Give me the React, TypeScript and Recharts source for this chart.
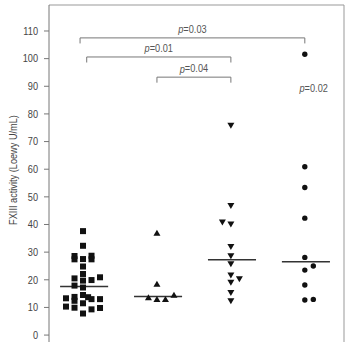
import { ScatterChart, Scatter, XAxis, YAxis, ReferenceLine, ReferenceDot } from "recharts";

// FXIII activity per patient group (Loewy U/mL)
const GROUP_1 = [37.6, 32.3, 28.6, 27.4, 27.5, 28.7, 27.4, 24.8, 22.1, 20.5, 19.7, 19.9, 20.9, 17.9, 17.2, 13.3, 13.8, 12.4, 14.5, 13.7, 13.0, 13.0, 10.3, 9.9, 11.5, 7.8, 9.3, 9.8];
const GROUP_2 = [36.8, 18.4, 13.5, 12.9, 12.9, 14.4];
const GROUP_3 = [75.9, 46.9, 40.9, 40.2, 32.0, 28.7, 25.8, 21.7, 20.4, 19.1, 15.4, 12.4];
const GROUP_4 = [101.6, 60.9, 53.4, 42.3, 28.1, 25.0, 23.5, 18.1, 12.7, 12.9];

// side-by-side lanes so that equal values don't overlap
const LANES_1 = [0, 0, -1, -1, 0, 1, 1, 0, 0, -1, 0, 1, 2, -1, 0, -2, -1, -1, 0, 0.6, 1, 2, -2, -1, 0, 0, 1, 2];
const LANES_2 = [0, 0, -1, 0, 1, 2];
const LANES_3 = [0, 0, -1, 0, 0, 0, 0, 0, 1, 0, 0, 0];
const LANES_4 = [0, 0, 0, 0, 0, 1, 0, 0, 0, 1];

const Y_TICKS = [0, 10, 20, 30, 40, 50, 60, 70, 80, 90, 100, 110];
const Y_LABEL = "FXIII activity (Loewy U/mL)";

// pairwise comparisons
const P_LABELS = ["0.03", "0.01", "0.04"];
const P_FROM = [0.96, 1.05, 2.0];
const P_TO = [4.0, 3.0, 3.0];
const P_LEVEL = [107.5, 100.6, 93.3];
const P_SINGLE = "0.02";

const LANE_W = 0.115;
const Y_DOMAIN: [number, number] = [-5.4, 119.4];
const X_DOMAIN: [number, number] = [0.54, 4.53];
const FONT = "'Liberation Sans', Arial, sans-serif";
const SQUEEZE = 0.8; // narrow the face horizontally

const toPoints = (values: number[], lanes: number[], group: number) =>
  values.map((v, i) => ({ x: group + lanes[i] * LANE_W, y: v }));

const median = (values: number[]) => {
  const s = [...values].sort((a, b) => a - b);
  const m = Math.floor(s.length / 2);
  return s.length % 2 ? s[m] : (s[m - 1] + s[m]) / 2;
};

const Square = (p: any) => <rect x={p.cx - 3} y={p.cy - 3} width={6} height={6} fill="#111" />;
const TriUp = (p: any) => (
  <path d={`M${p.cx},${p.cy - 3.5}L${p.cx + 3.5},${p.cy + 2.5}L${p.cx - 3.5},${p.cy + 2.5}Z`} fill="#111" />
);
const TriDown = (p: any) => (
  <path d={`M${p.cx - 3.5},${p.cy - 2.5}L${p.cx + 3.5},${p.cy - 2.5}L${p.cx},${p.cy + 3.5}Z`} fill="#111" />
);
const Dot = (p: any) => <circle cx={p.cx} cy={p.cy} r={2.7} fill="#111" />;

const NarrowText = ({ x, y, anchor = "middle", rotate = 0, size = 11.5, fill = "#555", children }: any) => (
  <text
    transform={`translate(${x},${y}) rotate(${rotate}) scale(${SQUEEZE},1)`}
    textAnchor={anchor}
    dominantBaseline="central"
    fontSize={size}
    fontFamily={FONT}
    fill={fill}
  >
    {children}
  </text>
);

const PText = ({ x, y, value }: { x: number; y: number; value: string }) => (
  <NarrowText x={x} y={y}>
    <tspan fontStyle="italic">p</tspan>={value}
  </NarrowText>
);

const groups = [
  { values: GROUP_1, lanes: LANES_1, shape: Square },
  { values: GROUP_2, lanes: LANES_2, shape: TriUp },
  { values: GROUP_3, lanes: LANES_3, shape: TriDown },
  { values: GROUP_4, lanes: LANES_4, shape: Dot },
];

export default function App() {
  return (
    <div style={{ position: "absolute", left: 0, top: 0, background: "#fff" }}>
      <ScatterChart width={346} height={350} margin={{ top: 5, right: 2, bottom: 0, left: 0 }}>
        <XAxis type="number" dataKey="x" domain={X_DOMAIN} hide />
        <YAxis
          type="number"
          dataKey="y"
          domain={Y_DOMAIN}
          ticks={Y_TICKS}
          width={49}
          tickSize={5}
          tickMargin={6}
          axisLine={{ stroke: "#777" }}
          tickLine={{ stroke: "#777" }}
          tick={(t: any) => (
            <NarrowText x={t.x} y={t.y} anchor="end" size={11.5} fill="#444">
              {t.payload.value}
            </NarrowText>
          )}
          allowDataOverflow
          label={() => (
            <NarrowText x={13} y={170} rotate={-90} size={11.5} fill="#444">
              {Y_LABEL}
            </NarrowText>
          )}
        />

        {/* frame */}
        <ReferenceLine y={Y_DOMAIN[1]} stroke="#999" />
        <ReferenceLine x={X_DOMAIN[1]} stroke="#999" />

        {groups.map((g, i) => {
          const m = median(g.values);
          return (
            <ReferenceLine
              key={`med${i}`}
              segment={[{ x: i + 1 - 0.31, y: m }, { x: i + 1 + 0.34, y: m }]}
              stroke="#333"
              strokeWidth={1.6}
            />
          );
        })}

        {P_LABELS.map((p, i) => (
          <ReferenceLine
            key={`br${i}`}
            segment={[{ x: P_FROM[i], y: P_LEVEL[i] }, { x: P_TO[i], y: P_LEVEL[i] }]}
            stroke="#777"
            label={(props: any) => {
              const vb = props.viewBox;
              return <PText x={vb.x + vb.width / 2} y={vb.y - 9} value={p} />;
            }}
          />
        ))}
        {P_LABELS.map((_, i) =>
          [P_FROM[i], P_TO[i]].map((x, j) => (
            <ReferenceLine
              key={`tk${i}-${j}`}
              segment={[{ x, y: P_LEVEL[i] }, { x, y: P_LEVEL[i] - 2 }]}
              stroke="#777"
            />
          ))
        )}
        <ReferenceDot
          x={4.12}
          y={89.4}
          r={0}
          fill="none"
          stroke="none"
          label={(props: any) => {
            const vb = props.viewBox;
            return <PText x={vb.x + vb.width / 2} y={vb.y + vb.height / 2} value={P_SINGLE} />;
          }}
        />

        {groups.map((g, i) => (
          <Scatter
            key={`s${i}`}
            data={toPoints(g.values, g.lanes, i + 1)}
            shape={g.shape}
            isAnimationActive={false}
          />
        ))}
      </ScatterChart>
    </div>
  );
}
